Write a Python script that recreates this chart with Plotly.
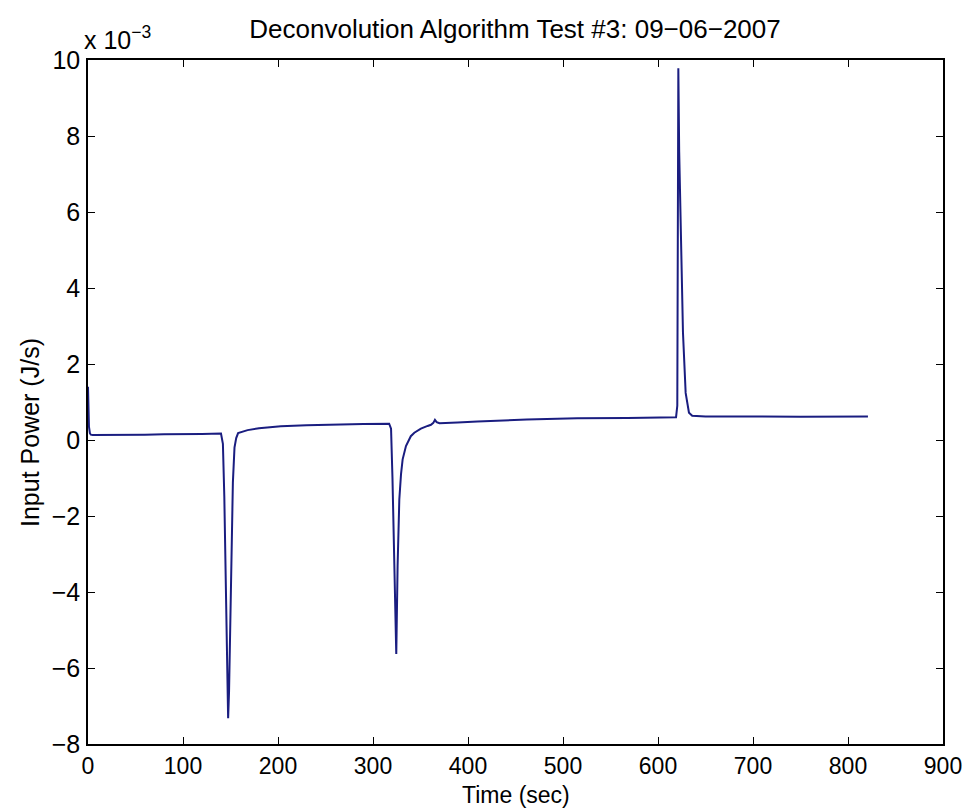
import plotly.graph_objects as go

# Time (sec)
time_s = [0, 0.5, 1, 2, 3, 5, 20, 40, 60, 80, 100, 120, 140,
          142, 143.5, 145, 146.5, 147.5, 148.5, 149.7, 150.7, 152.5, 154.2, 156, 158,
          162, 168, 180, 203, 230, 256, 290, 317,
          319, 320.5, 321.7, 323.3, 324.5, 325.9, 327.7, 329.5, 331.2, 334.7, 339.8,
          343.5, 350.4, 357.5, 361, 363.5, 365.2, 367, 370, 389, 410, 462, 515, 568, 619,
          620.3, 621.4, 622.3, 623.9, 626.3, 629.1, 632.6, 636, 650, 700, 750, 821]

# Input Power (J/s), in units of 1e-3
power_e3 = [1.40, 0.80, 0.35, 0.18, 0.14, 0.13, 0.13, 0.14, 0.14, 0.15, 0.15, 0.16, 0.17,
            -0.10, -1.5, -3.5, -6.0, -7.32, -6.6, -5.06, -2.87, -1.12, -0.20, 0.05, 0.18,
            0.22, 0.26, 0.31, 0.36, 0.39, 0.41, 0.42, 0.43,
            0.30, -1.0, -2.44, -4.5, -5.63, -3.31, -1.56, -0.90, -0.51, -0.16, 0.10,
            0.19, 0.30, 0.37, 0.40, 0.45, 0.53, 0.47, 0.44, 0.46, 0.49, 0.54, 0.57, 0.58, 0.60,
            0.9, 9.78, 7.6, 5.88, 2.82, 1.24, 0.72, 0.64, 0.62, 0.62, 0.61, 0.62]

x_ticks = [0, 100, 200, 300, 400, 500, 600, 700, 800, 900]
y_ticks = [-8, -6, -4, -2, 0, 2, 4, 6, 8, 10]

TITLE = "Deconvolution Algorithm Test #3: 09\u221206\u22122007"
X_TITLE = "Time (sec)"
Y_TITLE = "Input Power (J/s)"

FONT = "Liberation Sans, Arial, Helvetica, sans-serif"
FS = 25

def lab(v):
    return str(v).replace("-", "\u2212")

fig = go.Figure()
fig.add_trace(go.Scatter(
    x=time_s, y=power_e3, mode="lines",
    line=dict(color="#1a1d80", width=2),
    showlegend=False, hoverinfo="skip",
))

axis_common = dict(
    showline=True, linecolor="black", linewidth=1.5, mirror="ticks",
    ticks="inside", ticklen=7, tickwidth=1.2, tickcolor="black",
    showgrid=False, zeroline=False, automargin=False,
)

W, H = 963, 802
L, R, T, B = 80, 28, 52, 66
PW, PH = W - L - R, H - T - B

fig.update_layout(
    width=W, height=H,
    margin=dict(l=L, r=R, t=T, b=B),
    paper_bgcolor="white", plot_bgcolor="white",
    font=dict(family=FONT, size=FS, color="black"),
    title=dict(text=TITLE, x=507 / W, xanchor="center", y=1 - 21 / H, yanchor="middle",
               font=dict(family=FONT, size=26, color="black")),
    xaxis=dict(range=[0, 900], tickvals=x_ticks, ticktext=[lab(v) for v in x_ticks],
               ticklabelstandoff=1, tickfont=dict(family=FONT, size=23, color="black"),
               **axis_common),
    yaxis=dict(range=[-8, 10], tickvals=y_ticks, ticktext=[lab(v) for v in y_ticks],
               ticklabelstandoff=1, tickfont=dict(family=FONT, size=FS, color="black"),
               **axis_common),
    annotations=[
        dict(text="x 10<sup>\u22123</sup>", xref="paper", yref="paper", x=0, y=1,
             xanchor="left", yanchor="bottom", yshift=4, xshift=-6, showarrow=False,
             font=dict(family=FONT, size=FS, color="black")),
        dict(text=X_TITLE, xref="paper", yref="paper", x=0.5, y=(PH - 787 + T) / PH,
             xanchor="center", yanchor="middle", showarrow=False,
             font=dict(family=FONT, size=23, color="black")),
        dict(text=Y_TITLE, xref="paper", yref="paper", x=(22 - L) / PW,
             y=(H - B - 425) / PH, xanchor="center", yanchor="middle",
             textangle=-90, showarrow=False,
             font=dict(family=FONT, size=FS, color="black")),
    ],
)

fig.write_html("out.html")
